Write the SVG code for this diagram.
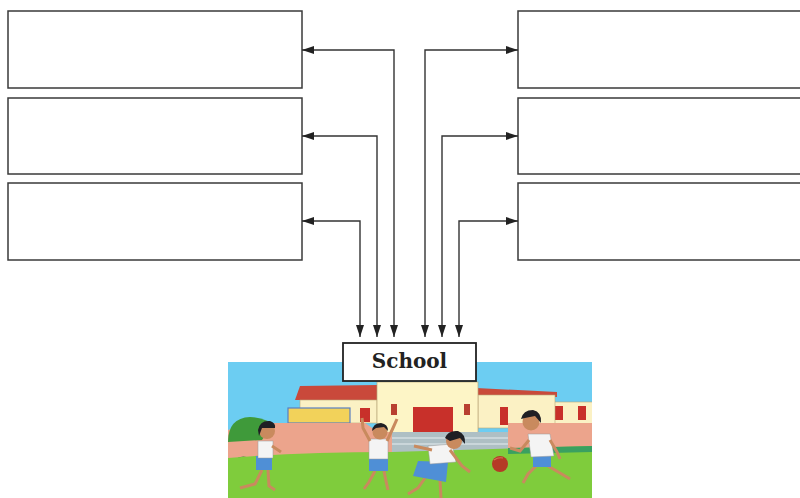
<svg xmlns="http://www.w3.org/2000/svg" width="800" height="498" viewBox="0 0 800 498">
<defs>
<style>
.box{fill:#fff;stroke:#3a3a3a;stroke-width:1.5}
.conn{fill:none;stroke:#333;stroke-width:1.4}
.lbl{font-family:"DejaVu Serif","Liberation Serif",serif;font-weight:bold;font-size:20px;fill:#222}
.skin{fill:#c98a5e}
.hair{fill:#1f1f24}
.shirt{fill:#f4f4f4;stroke:#999;stroke-width:0.5}
.blue{fill:#4f8fd6}
.red{fill:#c8302a}
</style>
<marker id="ah" viewBox="0 0 12 8" refX="12" refY="4" markerWidth="12" markerHeight="8" markerUnits="userSpaceOnUse" orient="auto-start-reverse">
<path d="M0,0 L12,4 L0,8 z" fill="#222"/>
</marker>
</defs>
<rect width="800" height="498" fill="#fff"/>

<g id="box-l1"><rect class="box" x="8" y="11" width="294" height="77"/></g>
<g id="box-l2"><rect class="box" x="8" y="98" width="294" height="76"/></g>
<g id="box-l3"><rect class="box" x="8" y="183" width="294" height="77"/></g>
<g id="box-r1"><rect class="box" x="518" y="11" width="290" height="77"/></g>
<g id="box-r2"><rect class="box" x="518" y="98" width="290" height="76"/></g>
<g id="box-r3"><rect class="box" x="518" y="183" width="290" height="77"/></g>

<g id="connectors">
<path class="conn" d="M394,337 V50 H302" marker-start="url(#ah)" marker-end="url(#ah)"/>
<path class="conn" d="M377,337 V136 H302" marker-start="url(#ah)" marker-end="url(#ah)"/>
<path class="conn" d="M360,337 V221 H302" marker-start="url(#ah)" marker-end="url(#ah)"/>
<path class="conn" d="M425,337 V50 H518" marker-start="url(#ah)" marker-end="url(#ah)"/>
<path class="conn" d="M442,337 V136 H518" marker-start="url(#ah)" marker-end="url(#ah)"/>
<path class="conn" d="M459,337 V221 H518" marker-start="url(#ah)" marker-end="url(#ah)"/>
</g>

<g id="scene">
<clipPath id="pic"><rect x="228" y="362" width="364" height="136"/></clipPath>
<g clip-path="url(#pic)">
<rect x="228" y="362" width="364" height="136" fill="#6ccdf2"/>
<!-- far right building -->
<rect x="550" y="402" width="45" height="22" fill="#fbf1c4" stroke="#b9a77a" stroke-width="0.6"/>
<rect x="555" y="406" width="8" height="14" class="red"/>
<rect x="578" y="406" width="8" height="14" class="red"/>
<!-- right wing -->
<polygon points="476,388 557,392 557,397 476,395" fill="#c94a3a"/>
<rect x="478" y="395" width="77" height="33" fill="#fbf1c4" stroke="#b9a77a" stroke-width="0.6"/>
<rect x="500" y="407" width="8" height="18" class="red"/>
<!-- left wing -->
<polygon points="295,400 300,386 377,385 377,400" fill="#c9493b"/>
<rect x="300" y="400" width="77" height="23" fill="#fbf1c4" stroke="#b9a77a" stroke-width="0.6"/>
<rect x="360" y="408" width="10" height="14" class="red"/>
<rect x="288" y="408" width="62" height="15" fill="#f2d25a" stroke="#5a7fc0" stroke-width="1.2"/>
<!-- central building -->
<rect x="377" y="382" width="101" height="51" fill="#fdf5c6" stroke="#b9a77a" stroke-width="0.7"/>
<rect x="413" y="407" width="40" height="26" class="red"/>
<rect x="391" y="404" width="6" height="11" fill="#b84030"/>
<rect x="464" y="404" width="6" height="11" fill="#b84030"/>
<!-- steps -->
<rect x="392" y="432" width="116" height="20" fill="#aebfc4"/>
<line x1="392" y1="438" x2="508" y2="438" stroke="#e6eef0" stroke-width="1.2"/>
<line x1="392" y1="444" x2="508" y2="444" stroke="#e6eef0" stroke-width="1.2"/>
<!-- pink walls -->
<polygon points="228,430 250,423 365,423 378,432 392,432 392,456 228,458" fill="#eca48c"/>
<rect x="508" y="423" width="90" height="25" fill="#eca48c"/>
<!-- bush -->
<path d="M228,442 Q228,418 250,417 Q268,418 272,426 L262,440 Z" fill="#3f9a3a"/>
<path d="M228,470 Q236,452 250,458 L250,470 Z" fill="#2f8a3a"/>
<!-- grass -->
<path d="M228,458 Q300,452 392,452 L592,446 L592,498 L228,498 Z" fill="#7fcc3c"/>
<path d="M508,448 L592,446 L592,452 L508,454 Z" fill="#3aa060"/>
<!-- child 1 -->
<g id="child1">
<path d="M262,470 L255,484 L240,488" stroke="#c98a5e" stroke-width="3" fill="none"/>
<path d="M268,470 L269,486 L275,490" stroke="#c98a5e" stroke-width="3" fill="none"/>
<rect x="256" y="456" width="16" height="14" class="blue"/>
<rect x="258" y="441" width="15" height="17" class="shirt"/>
<line x1="272" y1="446" x2="281" y2="452" stroke="#c98a5e" stroke-width="3"/>
<circle cx="267" cy="431" r="8" class="skin"/>
<path d="M258,430 Q260,420 270,421 Q276,423 275,428 L262,428 L259,436 Z" class="hair"/>
</g>
<!-- child 2 -->
<g id="child2">
<path d="M375,471 L369,482 L364,489" stroke="#c98a5e" stroke-width="3" fill="none"/>
<path d="M384,471 L386,481 L388,490" stroke="#c98a5e" stroke-width="3" fill="none"/>
<rect x="369" y="458" width="19" height="13" class="blue"/>
<rect x="369" y="439" width="19" height="20" class="shirt"/>
<path d="M370,441 L363,428 L362,418" stroke="#c98a5e" stroke-width="3" fill="none"/>
<path d="M387,441 L393,428 L397,419" stroke="#c98a5e" stroke-width="3" fill="none"/>
<circle cx="380" cy="432" r="7.5" class="skin"/>
<path d="M372,431 Q373,423 381,423 Q388,424 388,431 L384,427 L376,428 Z" class="hair"/>
</g>
<!-- child 3 -->
<g id="child3">
<path d="M425,478 L418,488 L408,494" stroke="#c98a5e" stroke-width="3" fill="none"/>
<path d="M440,480 L441,498" stroke="#c98a5e" stroke-width="3" fill="none"/>
<path d="M418,461 L448,462 L446,482 L413,476 Z" class="blue"/>
<path d="M428,446 L452,444 L456,462 L430,464 Z" class="shirt"/>
<path d="M450,450 L462,466 L470,472" stroke="#c98a5e" stroke-width="3" fill="none"/>
<path d="M432,450 L414,446" stroke="#c98a5e" stroke-width="3" fill="none"/>
<circle cx="454" cy="441" r="8" class="skin"/>
<path d="M445,438 Q448,430 458,431 Q466,434 465,444 L460,438 L450,441 Z" class="hair"/>
</g>
<!-- ball -->
<circle id="ball" cx="500" cy="464" r="8" fill="#b53a26"/>
<path d="M494,460 Q498,457 503,458" stroke="#d9705a" stroke-width="1.2" fill="none"/>
<!-- child 4 -->
<g id="child4">
<path d="M536,466 L528,474 L523,483" stroke="#c98a5e" stroke-width="3" fill="none"/>
<path d="M548,466 L560,473 L570,479" stroke="#c98a5e" stroke-width="3" fill="none"/>
<rect x="533" y="453" width="18" height="14" class="blue"/>
<path d="M528,434 L550,434 L554,456 L531,457 Z" class="shirt"/>
<path d="M529,440 L520,451 L510,448" stroke="#c98a5e" stroke-width="3" fill="none"/>
<path d="M550,440 L557,452 L560,459" stroke="#c98a5e" stroke-width="3" fill="none"/>
<circle cx="531" cy="422" r="8.5" class="skin"/>
<path d="M521,419 Q523,410 533,410 Q542,412 541,423 L535,416 L525,418 Z" class="hair"/>
</g>
</g>
</g>

<g id="school">
<rect x="343" y="343" width="133" height="38" fill="#fff" stroke="#222" stroke-width="1.8"/>
<text class="lbl" x="409.5" y="368" text-anchor="middle">School</text>
</g>
</svg>
